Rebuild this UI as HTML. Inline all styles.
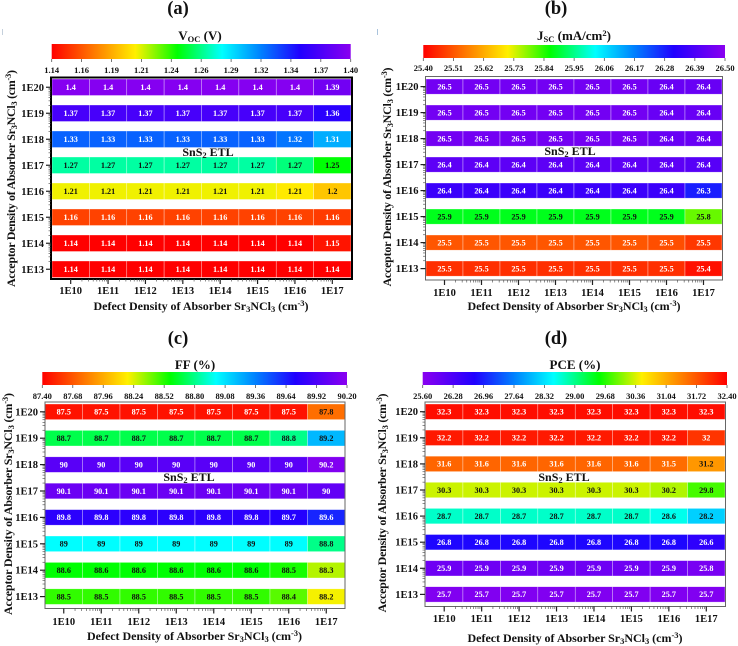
<!DOCTYPE html>
<html lang="en">
<head>
<meta charset="utf-8">
<title>Heatmaps of VOC, JSC, FF and PCE for SnS2 ETL</title>
<style>
  html, body { margin: 0; padding: 0; background: #fff; }
  svg { display: block; }
  text { font-family: "Liberation Serif", serif; font-weight: bold; fill: #111; }
  .panel-title { font-size: 18.5px; }
  .bar-title { font-size: 13px; }
  .axis-title { font-size: 12px; }
  .etl { font-size: 12px; }
  .sub { font-size: 8.5px; }
</style>
</head>
<body>
<svg id="figure" width="738" height="646" viewBox="0 0 738 646" xmlns="http://www.w3.org/2000/svg">
  <defs>
    <linearGradient id="grad-forward"></linearGradient>
    <linearGradient id="grad-reverse"></linearGradient>
  </defs>
  <rect x="2" y="29" width="1" height="6" fill="#c5d0dc"/>
  <rect x="377" y="29" width="1" height="6" fill="#a9c3dc"/>

  <g id="panel-a">
    <text class="panel-title" x="178" y="14" text-anchor="middle">(a)</text>
    <text class="bar-title" x="200" y="40" text-anchor="middle">V<tspan class="sub" dy="2">OC</tspan><tspan dy="-2"> (V)</tspan></text>
    <text class="axis-title" transform="translate(15,178.5) rotate(-90)" text-anchor="middle" textLength="217">Acceptor Density of Absorber Sr<tspan class="sub" dy="2">3</tspan><tspan dy="-2">NCl</tspan><tspan class="sub" dy="2">3</tspan><tspan dy="-2"> (cm</tspan><tspan class="sub" dy="-4">-3</tspan><tspan dy="4">)</tspan></text>
    <text class="axis-title" x="201" y="310" text-anchor="middle" textLength="215">Defect Density of Absorber Sr<tspan class="sub" dy="2">3</tspan><tspan dy="-2">NCl</tspan><tspan class="sub" dy="2">3</tspan><tspan dy="-2"> (cm</tspan><tspan class="sub" dy="-4">-3</tspan><tspan dy="4">)</tspan></text>
  </g>

  <g id="panel-b">
    <text class="panel-title" x="556" y="14" text-anchor="middle">(b)</text>
    <text class="bar-title" x="574" y="40" text-anchor="middle">J<tspan class="sub" dy="2">SC</tspan><tspan dy="-2"> (mA/cm</tspan><tspan class="sub" dy="-4">2</tspan><tspan dy="4">)</tspan></text>
    <text class="axis-title" transform="translate(391,177) rotate(-90)" text-anchor="middle" textLength="219">Acceptor Density of Absorber Sr<tspan class="sub" dy="2">3</tspan><tspan dy="-2">NCl</tspan><tspan class="sub" dy="2">3</tspan><tspan dy="-2"> (cm</tspan><tspan class="sub" dy="-4">-3</tspan><tspan dy="4">)</tspan></text>
    <text class="axis-title" x="574" y="310" text-anchor="middle" textLength="213">Defect Density of Absorber Sr<tspan class="sub" dy="2">3</tspan><tspan dy="-2">NCl</tspan><tspan class="sub" dy="2">3</tspan><tspan dy="-2"> (cm</tspan><tspan class="sub" dy="-4">-3</tspan><tspan dy="4">)</tspan></text>
  </g>

  <g id="panel-c">
    <text class="panel-title" x="178" y="344" text-anchor="middle">(c)</text>
    <text class="bar-title" x="195" y="369" text-anchor="middle">FF (%)</text>
    <text class="axis-title" transform="translate(12,504) rotate(-90)" text-anchor="middle" textLength="222">Acceptor Density of Absorber Sr<tspan class="sub" dy="2">3</tspan><tspan dy="-2">NCl</tspan><tspan class="sub" dy="2">3</tspan><tspan dy="-2"> (cm</tspan><tspan class="sub" dy="-4">-3</tspan><tspan dy="4">)</tspan></text>
    <text class="axis-title" x="194.5" y="640" text-anchor="middle" textLength="215">Defect Density of Absorber Sr<tspan class="sub" dy="2">3</tspan><tspan dy="-2">NCl</tspan><tspan class="sub" dy="2">3</tspan><tspan dy="-2"> (cm</tspan><tspan class="sub" dy="-4">-3</tspan><tspan dy="4">)</tspan></text>
  </g>

  <g id="panel-d">
    <text class="panel-title" x="556" y="344" text-anchor="middle">(d)</text>
    <text class="bar-title" x="575" y="369" text-anchor="middle">PCE (%)</text>
    <text class="axis-title" transform="translate(386,503) rotate(-90)" text-anchor="middle" textLength="219">Acceptor Density of Absorber Sr<tspan class="sub" dy="2">3</tspan><tspan dy="-2">NCl</tspan><tspan class="sub" dy="2">3</tspan><tspan dy="-2"> (cm</tspan><tspan class="sub" dy="-4">-3</tspan><tspan dy="4">)</tspan></text>
    <text class="axis-title" x="575" y="642" text-anchor="middle" textLength="215">Defect Density of Absorber Sr<tspan class="sub" dy="2">3</tspan><tspan dy="-2">NCl</tspan><tspan class="sub" dy="2">3</tspan><tspan dy="-2"> (cm</tspan><tspan class="sub" dy="-4">-3</tspan><tspan dy="4">)</tspan></text>
  </g>
</svg>

<script>
/* ---- chart data ---- */
const defectDensities = ["1E10", "1E11", "1E12", "1E13", "1E14", "1E15", "1E16", "1E17"];
const acceptorDensities = ["1E20", "1E19", "1E18", "1E17", "1E16", "1E15", "1E14", "1E13"];

const vocValues = [
  [1.398, 1.398, 1.398, 1.398, 1.398, 1.398, 1.398, 1.39],
  [1.372, 1.372, 1.372, 1.372, 1.372, 1.372, 1.372, 1.36],
  [1.33, 1.33, 1.33, 1.33, 1.33, 1.33, 1.325, 1.31],
  [1.274, 1.274, 1.274, 1.274, 1.274, 1.274, 1.268, 1.25],
  [1.2149, 1.2149, 1.2149, 1.2149, 1.2149, 1.2149, 1.211, 1.2],
  [1.16, 1.16, 1.16, 1.16, 1.16, 1.16, 1.16, 1.158],
  [1.14, 1.14, 1.14, 1.14, 1.14, 1.14, 1.14, 1.146],
  [1.14, 1.14, 1.14, 1.14, 1.14, 1.14, 1.14, 1.14]
];
const jscValues = [
  [26.46, 26.46, 26.46, 26.46, 26.46, 26.46, 26.44, 26.44],
  [26.46, 26.46, 26.46, 26.46, 26.46, 26.46, 26.44, 26.44],
  [26.46, 26.46, 26.46, 26.46, 26.46, 26.46, 26.44, 26.44],
  [26.42, 26.42, 26.42, 26.42, 26.42, 26.42, 26.42, 26.41],
  [26.36, 26.36, 26.36, 26.36, 26.36, 26.36, 26.36, 26.28],
  [25.88, 25.88, 25.88, 25.88, 25.88, 25.88, 25.88, 25.8],
  [25.51, 25.51, 25.51, 25.51, 25.51, 25.51, 25.5, 25.47],
  [25.46, 25.46, 25.46, 25.46, 25.46, 25.46, 25.46, 25.42]
];
const ffValues = [
  [87.46, 87.46, 87.46, 87.46, 87.46, 87.46, 87.46, 87.76],
  [88.7, 88.7, 88.7, 88.7, 88.7, 88.7, 88.8, 89.2],
  [89.98, 89.98, 89.98, 89.98, 89.98, 89.98, 89.98, 90.16],
  [90.06, 90.06, 90.06, 90.06, 90.06, 90.06, 90.06, 90.02],
  [89.78, 89.78, 89.78, 89.78, 89.78, 89.78, 89.74, 89.62],
  [89, 89, 89, 89, 89, 89, 89, 88.8],
  [88.58, 88.58, 88.58, 88.58, 88.58, 88.58, 88.54, 88.3],
  [88.5, 88.5, 88.5, 88.5, 88.5, 88.5, 88.44, 88.2]
];
const pceValues = [
  [32.3, 32.3, 32.3, 32.3, 32.3, 32.3, 32.3, 32.3],
  [32.2, 32.2, 32.2, 32.2, 32.2, 32.2, 32.2, 31.99],
  [31.6, 31.6, 31.6, 31.6, 31.6, 31.6, 31.54, 31.2],
  [30.3, 30.3, 30.3, 30.3, 30.3, 30.3, 30.2, 29.8],
  [28.74, 28.74, 28.74, 28.74, 28.74, 28.74, 28.6, 28.2],
  [26.8, 26.8, 26.8, 26.8, 26.8, 26.8, 26.8, 26.6],
  [25.9, 25.9, 25.9, 25.9, 25.9, 25.9, 25.9, 25.8],
  [25.7, 25.7, 25.7, 25.7, 25.7, 25.7, 25.7, 25.7]
];

const vocTicks = ["1.14", "1.16", "1.19", "1.21", "1.24", "1.26", "1.29", "1.32", "1.34", "1.37", "1.40"];
const jscTicks = ["25.40", "25.51", "25.62", "25.73", "25.84", "25.95", "26.06", "26.17", "26.28", "26.39", "26.50"];
const ffTicks = ["87.40", "87.68", "87.96", "88.24", "88.52", "88.80", "89.08", "89.36", "89.64", "89.92", "90.20"];
const pceTicks = ["25.60", "26.28", "26.96", "27.64", "28.32", "29.00", "29.68", "30.36", "31.04", "31.72", "32.40"];

/* ---- presentation ---- */
const SVG_NS = "http://www.w3.org/2000/svg";
const rainbow = [
  [0, 255, 0, 0],
  [0.28, 255, 240, 0],
  [0.42, 0, 255, 0],
  [0.57, 0, 255, 255],
  [0.7, 0, 128, 255],
  [0.83, 32, 0, 255],
  [1, 138, 0, 240]
];

function colorAt(t) {
  t = Math.max(0, Math.min(1, t));
  for (let i = 1; i < rainbow.length; i++) {
    if (t <= rainbow[i][0]) {
      const a = rainbow[i - 1], b = rainbow[i];
      const f = (t - a[0]) / (b[0] - a[0]);
      return [1, 2, 3].map(function (k) { return Math.round(a[k] + (b[k] - a[k]) * f); });
    }
  }
  return rainbow[rainbow.length - 1].slice(1);
}

function node(tag, attrs, parent) {
  const el = document.createElementNS(SVG_NS, tag);
  for (const k in attrs) el.setAttribute(k, attrs[k]);
  parent.appendChild(el);
  return el;
}

function buildGradient(id, reversed) {
  const g = document.getElementById(id);
  rainbow.forEach(function (s) {
    const offset = reversed ? 1 - s[0] : s[0];
    const stop = document.createElementNS(SVG_NS, "stop");
    stop.setAttribute("offset", offset);
    stop.setAttribute("stop-color", "rgb(" + s[1] + "," + s[2] + "," + s[3] + ")");
    if (reversed) g.insertBefore(stop, g.firstChild); else g.appendChild(stop);
  });
}
buildGradient("grad-forward", false);
buildGradient("grad-reverse", true);

function drawPanel(p) {
  const root = document.getElementById(p.id);
  const min = parseFloat(p.ticks[0]);
  const max = parseFloat(p.ticks[p.ticks.length - 1]);

  /* axis functions */
  const barTickX = function (i) { return p.barLeft + i / (p.ticks.length - 1) * (p.barRight - p.barLeft); };
  const colW = (p.cellRight - p.cellLeft) / p.categories.length;
  const colX = function (i) { return p.cellLeft + i * colW; };
  const rowY = function (i) { return p.rowTop + i * p.rowPitch; };
  const colorOf = function (v) {
    const t = (v - min) / (max - min);
    return colorAt(p.reversed ? 1 - t : t);
  };

  /* colour bar */
  const bar = node("rect", { x: p.barLeft, y: p.barTop, width: p.barRight - p.barLeft, height: p.barBottom - p.barTop, fill: "url(#" + (p.reversed ? "grad-reverse" : "grad-forward") + ")" }, root);
  
  
  p.ticks.forEach(function (label, i) {
    const x = barTickX(i);
    const tick = node("line", { x1: x, x2: x, y1: p.barBottom, y2: p.barBottom + 3, stroke: "#555", "stroke-width": 0.8 }, root);
    
    
    const txt = node("text", { x: x, y: p.barLabelY, "text-anchor": "middle", "font-size": 8.5 }, root);
    txt.textContent = label;
    
    
  });

  /* heatmap cells */
  p.values.forEach(function (row, r) {
    row.forEach(function (v, c) {
      const rgb = colorOf(v);
      const cell = node("rect", { x: colX(c), y: rowY(r), width: colW, height: p.rowHeight, fill: "rgb(" + rgb.join(",") + ")", stroke: "rgba(255,255,255,0.55)", "stroke-width": 0.6 }, root);
      
      
      const lum = 0.3 * rgb[0] + 0.59 * rgb[1] + 0.11 * rgb[2];
      const txt = node("text", { x: colX(c) + colW / 2, y: rowY(r) + p.rowHeight / 2 + 2.8, "text-anchor": "middle", "font-size": 8.2, style: "fill:" + (lum > p.darkAbove ? "#111" : "#fff") }, root);
      txt.textContent = String(parseFloat(v.toFixed(p.decimals)));
      
      
    });
  });

  /* frame */
  const frame = node("path", { d: "M" + p.frameLeft + " " + p.frameTop + "V" + p.frameBottom + "H" + p.frameRight + "V" + p.frameTop + "Z", fill: "none", stroke: p.thick ? "#000" : "#666", "stroke-width": p.thick ? 2 : 1 }, root);
  
  

  /* y axis */
  p.rows.forEach(function (label, r) {
    const y = rowY(r) + p.rowHeight / 2;
    const tick = node("line", { x1: p.frameLeft - 5, x2: p.frameLeft, y1: y, y2: y, stroke: "#222", "stroke-width": 1.2 }, root);
    
    
    const txt = node("text", { x: p.frameLeft - 7, y: y + 3.5, "text-anchor": "end", "font-size": 10.5 }, root);
    txt.textContent = label;
    
    
    if (r < p.rows.length - 1) {
      for (let m = 2; m < 10; m++) {
        const my = y + p.rowPitch * (1 - Math.log10(m));
        const minor = node("line", { x1: p.frameLeft - 2.5, x2: p.frameLeft, y1: my, y2: my, stroke: "#444", "stroke-width": 0.6 }, root);
        
        
      }
    }
  });

  /* x axis */
  p.categories.forEach(function (label, c) {
    const x = colX(c) + colW / 2;
    const tick = node("line", { x1: x, x2: x, y1: p.frameBottom, y2: p.frameBottom + 5, stroke: "#222", "stroke-width": 1.2 }, root);
    
    
    const txt = node("text", { x: x, y: p.xLabelY, "text-anchor": "middle", "font-size": 10.5 }, root);
    txt.textContent = label;
    
    
    if (c < p.categories.length - 1) {
      for (let m = 2; m < 10; m++) {
        const mx = x + colW * Math.log10(m);
        const minor = node("line", { x1: mx, x2: mx, y1: p.frameBottom, y2: p.frameBottom + 2.5, stroke: "#444", "stroke-width": 0.6 }, root);
        
        
      }
    }
  });

  /* annotation */
  const etl = node("text", { class: "etl", x: p.etlX, y: p.etlY, "text-anchor": "middle" }, root);
  
  
  const a = node("tspan", {}, etl); a.textContent = "SnS";
  const b = node("tspan", { class: "sub", dy: 2 }, etl); b.textContent = "2";
  const d = node("tspan", { dy: -2 }, etl); d.textContent = " ETL";
}

drawPanel({
  id: "panel-a", key: "voc", values: vocValues, ticks: vocTicks, rows: acceptorDensities, categories: defectDensities,
  decimals: 2, reversed: false, darkAbove: 132, thick: true,
  barLeft: 51.7, barRight: 350.7, barTop: 44, barBottom: 59, barLabelY: 73,
  cellLeft: 52, cellRight: 351, rowTop: 79, rowPitch: 26, rowHeight: 16.5,
  frameLeft: 51, frameRight: 352, frameTop: 77.5, frameBottom: 279,
  xLabelY: 294, etlX: 208, etlY: 156
});
drawPanel({
  id: "panel-b", key: "jsc", values: jscValues, ticks: jscTicks, rows: acceptorDensities, categories: defectDensities,
  decimals: 1, reversed: false, darkAbove: 132, thick: false,
  barLeft: 423.3, barRight: 725, barTop: 45, barBottom: 58, barLabelY: 71,
  cellLeft: 426, cellRight: 722, rowTop: 79, rowPitch: 26, rowHeight: 15.2,
  frameLeft: 425.5, frameRight: 722.5, frameTop: 76.5, frameBottom: 280,
  xLabelY: 296, etlX: 570, etlY: 155
});
drawPanel({
  id: "panel-c", key: "ff", values: ffValues, ticks: ffTicks, rows: acceptorDensities, categories: defectDensities,
  decimals: 1, reversed: false, darkAbove: 132, thick: false,
  barLeft: 42.3, barRight: 347, barTop: 372, barBottom: 385, barLabelY: 399,
  cellLeft: 45, cellRight: 345, rowTop: 404, rowPitch: 26.4, rowHeight: 15.6,
  frameLeft: 45, frameRight: 345, frameTop: 402, frameBottom: 608.5,
  xLabelY: 625, etlX: 189, etlY: 481
});
drawPanel({
  id: "panel-d", key: "pce", values: pceValues, ticks: pceTicks, rows: acceptorDensities, categories: defectDensities,
  decimals: 1, reversed: true, darkAbove: 150, thick: false,
  barLeft: 422.7, barRight: 727, barTop: 372, barBottom: 385, barLabelY: 399,
  cellLeft: 425.5, cellRight: 725, rowTop: 404, rowPitch: 26.1, rowHeight: 15.4,
  frameLeft: 425, frameRight: 725.5, frameTop: 402, frameBottom: 606.5,
  xLabelY: 622, etlX: 564, etlY: 481
});
</script>
</body>
</html>
